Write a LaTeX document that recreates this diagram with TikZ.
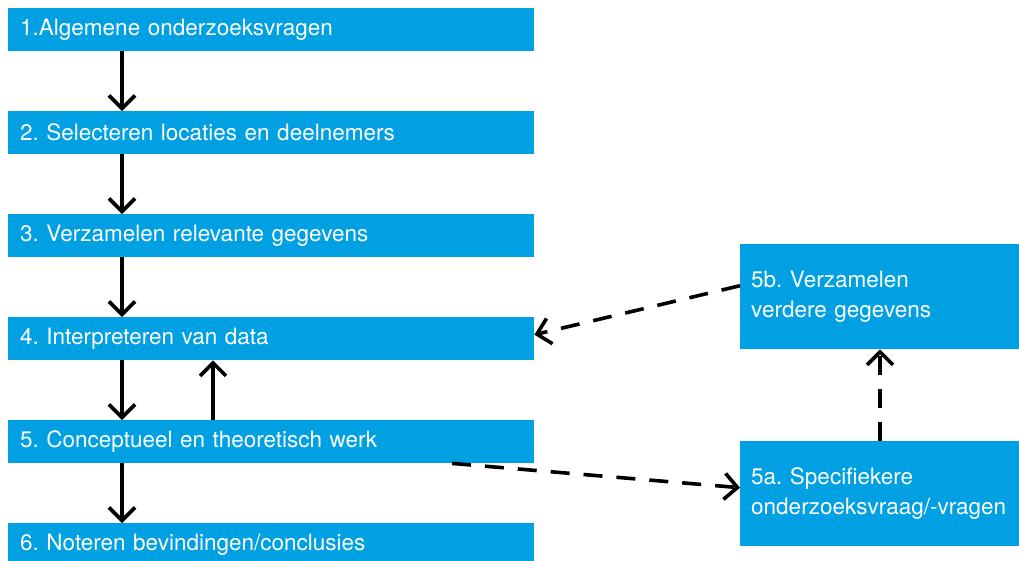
\documentclass[tikz,border=0pt]{standalone}
\usepackage{fontspec}
\setmainfont{TeX Gyre Heros}
\usetikzlibrary{arrows.meta}
\definecolor{boxblue}{RGB}{0,160,227}
\frenchspacing
\tikzset{
  stepbox/.style={fill=boxblue, text=white, anchor=north west, inner xsep=12pt, inner ysep=0pt,
    minimum height=43pt, text width=502pt, align=left, font=\fontsize{22.5}{30}\selectfont},
  sidebox/.style={fill=boxblue, text=white, anchor=north west, inner xsep=11pt, inner ysep=0pt,
    minimum height=105pt, text width=300pt, align=left, font=\fontsize{22.5}{30}\selectfont},
  arr/.style={line width=3.6pt, -{Straight Barb[length=13pt,width=26pt,line width=3.6pt]}},
  darr/.style={arr, dash pattern=on 19pt off 14pt},
}
\begin{document}
\begin{tikzpicture}[x=1pt,y=-1pt]
\useasboundingbox (0,0) rectangle (1019,560);
\clip (0,0) rectangle (1019,560);
\node[stepbox] (b1) at (8,8) {1.Algemene onderzoeksvragen};
\node[stepbox] (b2) at (8,111) {2. Selecteren locaties en deelnemers};
\node[stepbox] (b3) at (8,214) {3. Verzamelen relevante gegevens};
\node[stepbox] (b4) at (8,317) {4. Interpreteren van data};
\node[stepbox] (b5) at (8,420) {5. Conceptueel en theoretisch werk};
\node[stepbox] (b6) at (8,523) {6. Noteren bevindingen/conclusies};
\node[sidebox] (s5b) at (740,244) {5b. Verzamelen\\verdere gegevens};
\node[sidebox] (s5a) at (740,441) {5a. Specifiekere\\onderzoeksvraag/-vragen};
\draw[arr] ([xshift=114pt]b1.south west) -- ([xshift=114pt]b2.north west);
\draw[arr] ([xshift=114pt]b2.south west) -- ([xshift=114pt]b3.north west);
\draw[arr] ([xshift=114pt]b3.south west) -- ([xshift=114pt]b4.north west);
\draw[arr] ([xshift=114pt]b4.south west) -- ([xshift=114pt]b5.north west);
\draw[arr] ([xshift=205pt]b5.north west) -- ([xshift=205pt]b4.south west);
\draw[arr] ([xshift=114pt]b5.south west) -- ([xshift=114pt]b6.north west);
\draw[darr] ([yshift=11pt]s5b.west) -- ([yshift=4pt]b4.east);
\draw[darr] ([xshift=444pt]b5.south west) -- ([yshift=6pt]s5a.west);
\draw[darr] ([xshift=140pt]s5a.north west) -- ([xshift=140pt]s5b.south west);
\end{tikzpicture}
\end{document}
